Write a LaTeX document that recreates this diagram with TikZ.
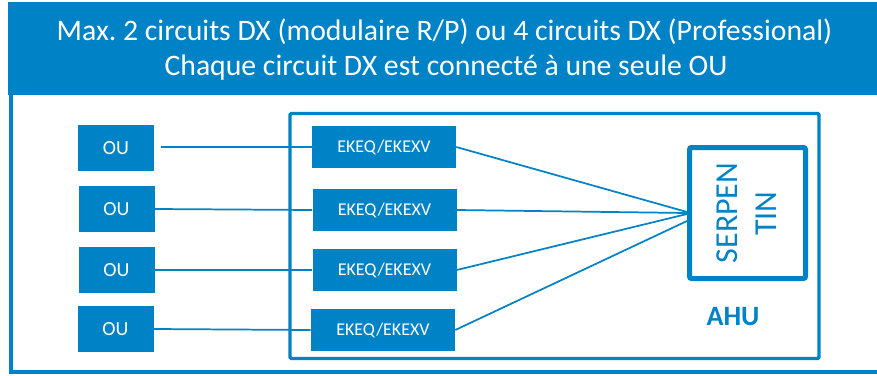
\documentclass[tikz,border=0pt]{standalone}
\usepackage{fontspec}
\setmainfont{Carlito}
\usetikzlibrary{calc}
\definecolor{dblue}{RGB}{0,130,198}
\frenchspacing
\begin{document}
\begin{tikzpicture}[x=0.75pt,y=-0.75pt,
  oubox/.style={fill=dblue,text=white,minimum width=57pt,minimum height=34.5pt,inner sep=0pt,font=\fontsize{15}{18}\selectfont},
  ekbox/.style={fill=dblue,text=white,minimum width=108pt,minimum height=31.5pt,inner sep=0pt,font=\fontsize{13.5}{16}\selectfont},
  wire/.style={draw=dblue,line width=1.3pt},
  htext/.style={text=white,anchor=base,inner sep=0pt,font=\fontsize{22.3}{26}\selectfont},
  btext/.style={text=dblue,inner sep=0pt,font=\fontsize{24}{28}\selectfont}]
\useasboundingbox (0,0) rectangle (877,375);
\fill[dblue] (8,2) rectangle (877,95);
\draw[dblue,line width=3pt] (10.5,95) -- (10.5,371.5) -- (877,371.5);
\node[htext] (h1) at (444.5,40) {Max.\ 2 circuits DX (modulaire R/P) ou 4 circuits DX (Professional)};
\node[htext] (h2) at (446,75) {Chaque circuit DX est connecté à une seule OU};
% AHU frame
\node[draw=dblue,line width=2.6pt,rounded corners=1pt,minimum width=396.75pt,minimum height=183.75pt,inner sep=0pt] (ahu) at (554.5,236) {};
\node[draw=dblue,line width=3.75pt,rounded corners=1.5pt,minimum width=87pt,minimum height=98.25pt,inner sep=0pt] (serp) at (747.5,213) {};
\node[btext,rotate=90] (serp1) at (727.5,213) {SERPEN};
\node[btext,rotate=90] (serp2) at (766,213.5) {TIN};
\node[text=dblue,anchor=base,inner sep=0pt,font=\fontsize{21}{24}\selectfont\bfseries] (ahul) at (733,325) {AHU};
% OU
\node[oubox] (ou1) at (116,148) {OU};
\node[oubox] (ou2) at (116.5,209) {OU};
\node[oubox] (ou3) at (116.5,270) {OU};
\node[oubox] (ou4) at (115.5,329) {OU};
% EKEQ
\node[ekbox] (ek1) at (384,147) {EKEQ/EKEXV};
\node[ekbox] (ek2) at (384.5,210) {EKEQ/EKEXV};
\node[ekbox] (ek3) at (384.5,270) {EKEQ/EKEXV};
\node[ekbox] (ek4) at (383,330) {EKEQ/EKEXV};
% wires
\coordinate (s1) at ($(ou1.east)+(7,-1)$);
\coordinate (p4) at ($(serp.west)+(0,8)$);
\draw[wire] (s1) -- (ek1.west);
\draw[wire] (ou2.east) -- (ek2.west);
\draw[wire] (ou3.east) -- (ek3.west);
\draw[wire] (ou4.east) -- (ek4.west);
\draw[wire] (ek1.east) -- ($(serp.west)+(0,-1)$);
\draw[wire] (ek2.east) -- (serp.west);
\draw[wire] (ek3.east) -- ($(serp.west)+(0,1)$);
\draw[wire] (ek4.east) -- (p4);
\end{tikzpicture}
\end{document}
